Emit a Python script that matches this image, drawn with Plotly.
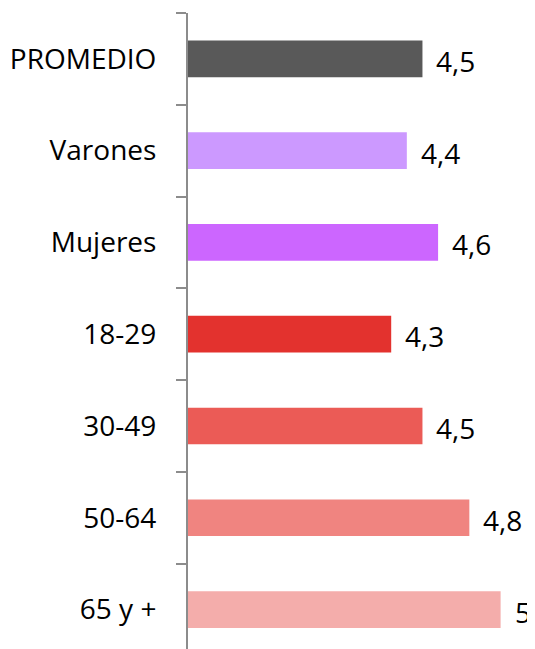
import plotly.graph_objects as go

categories = ["PROMEDIO", "Varones", "Mujeres", "18-29", "30-49", "50-64", "65 y +"]
values = [4.5, 4.4, 4.6, 4.3, 4.5, 4.8, 5.0]
value_labels = ["4,5", "4,4", "4,6", "4,3", "4,5", "4,8", "5"]
colors = ["#595959", "#CC99FF", "#CC66FF", "#E3322E", "#EB5B56", "#F08480", "#F4ADAB"]

FONT = "Open Sans, Liberation Sans, Arial, sans-serif"

fig = go.Figure()
fig.add_trace(go.Bar(
    x=[v - 3 for v in values], base=3, y=categories, orientation="h",
    marker=dict(color=colors, line=dict(width=0)),
    hoverinfo="skip",
))

for c, v, t in zip(categories, values, value_labels):
    fig.add_annotation(x=v, y=c, text=t, xanchor="left", xshift=12, yshift=-2,
                       showarrow=False, font=dict(family=FONT, size=28, color="#000000"))

# page body has an 8px default margin, so the figure is sized/offset to compensate
fig.update_layout(
    width=527, height=641,
    margin=dict(l=180, r=0, t=5, b=0, autoexpand=False),
    paper_bgcolor="white", plot_bgcolor="white",
    bargap=0.6, showlegend=False,
    font=dict(family=FONT, size=28, color="#000000"),
    xaxis=dict(range=[3, 5.22], visible=False, fixedrange=True, automargin=False),
    yaxis=dict(
        type="category", categoryorder="array", categoryarray=categories,
        range=[6.43, -0.5], automargin=False,
        showline=True, linecolor="#8C8C8C", linewidth=2,
        ticks="outside", tickson="boundaries", ticklen=10, tickwidth=2, tickcolor="#8C8C8C",
        ticklabelstandoff=24, showgrid=False, zeroline=False,
        tickfont=dict(family=FONT, size=28),
    ),
)

fig.write_html("out.html")
